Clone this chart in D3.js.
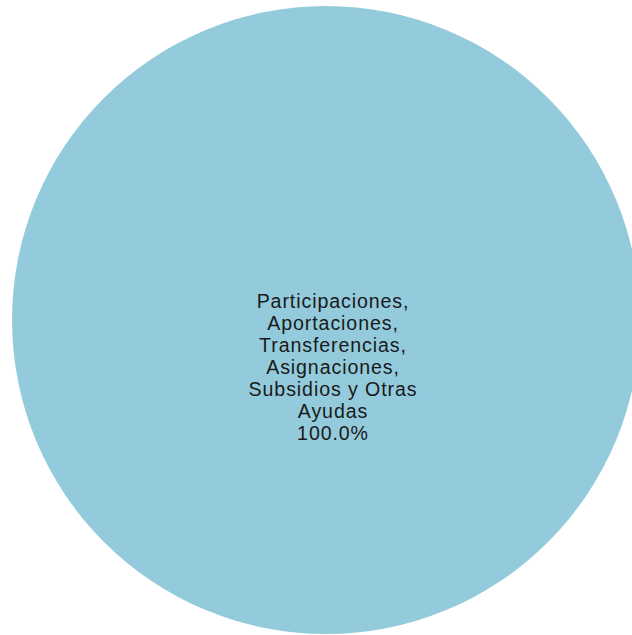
<!DOCTYPE html>
<html>
<head>
<meta charset="utf-8">
<script src="https://d3js.org/d3.v7.min.js"></script>
<style>
  body { margin: 0; background: #fff; }
  svg { display: block; }
</style>
</head>
<body>
<svg width="632" height="635"></svg>
<script>
var categories = ["Participaciones, Aportaciones, Transferencias, Asignaciones, Subsidios y Otras Ayudas"];
var values = [100.0];
var labelLines = [["Participaciones,", "Aportaciones,", "Transferencias,", "Asignaciones,", "Subsidios y Otras", "Ayudas"]];
var colors = ["#93cbdc"];

var svg = d3.select("svg"),
  width = +svg.attr("width"),
  height = +svg.attr("height");

var cx = 326, cy = 320, radius = 314;

var total = d3.sum(values);
var pie = d3.pie().sort(null)(values);
var arc = d3.arc().innerRadius(0).outerRadius(radius);

var g = svg.append("g")
  .attr("transform", "translate(" + cx + "," + cy + ")");

g.selectAll("path")
  .data(pie)
  .enter().append("path")
  .attr("d", arc)
  .attr("fill", function(d, i) { return colors[i]; });

// single slice: label sits near the middle, tight leading
var lineH = 22;
pie.forEach(function(d, i) {
  var lines = labelLines[i].concat([d3.format(".1f")(values[i] / total * 100) + "%"]);
  var t = g.append("text")
    .attr("x", 7)
    .attr("y", -12)
    .attr("text-anchor", "middle")
    .style("font-family", "Arial, 'Liberation Sans', sans-serif")
    .style("font-size", "19.6px")
    .style("letter-spacing", "0.9px")
    .style("fill", "#1a1a1a");
  t.selectAll("tspan")
    .data(lines)
    .enter().append("tspan")
    .attr("x", 7)
    .attr("dy", function(l, j) { return j == 0 ? 0 : lineH; })
    .text(function(l) { return l; });
});
</script>
</body>
</html>
